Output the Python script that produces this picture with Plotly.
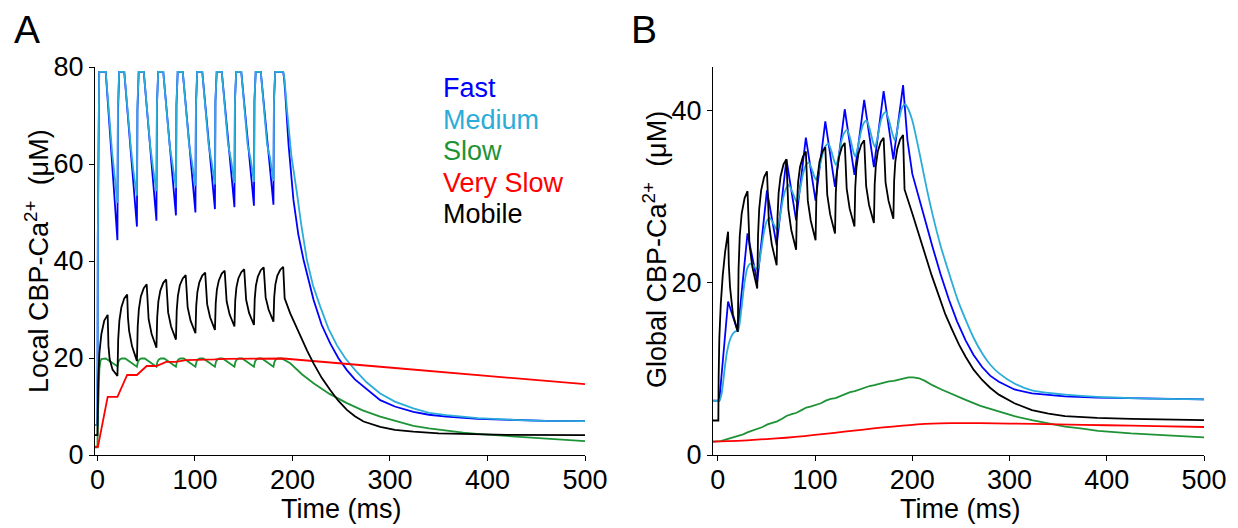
import plotly.graph_objects as go

W, H = 1238, 528

# ---------------- Panel A (local) ----------------
A_FAST_T = [-2.5, 0, 0.4, 1.0, 1.8, 8.5,
            20.5, 21.0, 21.6, 22.3, 27.5,
            40.5, 41.0, 41.6, 42.3, 47.5,
            60.5, 61.0, 61.6, 62.3, 67.5,
            80.5, 81.0, 81.6, 82.3, 87.5,
            100.5, 101.0, 101.6, 102.3, 107.5,
            120.5, 121.0, 121.6, 122.3, 127.5,
            140.5, 141.0, 141.6, 142.3, 147.5,
            160.5, 161.0, 161.6, 162.3, 167.5,
            180.5, 181.0, 181.6, 182.3, 190.5,
            191.5, 192.6, 196, 201, 206, 211.4, 221.6, 230, 238.7, 247, 255.8, 264,
            272.9, 290, 305, 324, 340, 358, 390, 426.5, 460, 500]
A_FAST_V = [6.2, 6.2, 45, 76, 79, 79,
            44.3, 70, 78, 79, 79,
            47.1, 71, 78, 79, 79,
            48.3, 72, 78, 79, 79,
            49.4, 72, 78, 79, 79,
            50.0, 72, 78, 79, 79,
            50.7, 73, 78, 79, 79,
            51.1, 73, 78, 79, 79,
            51.4, 73, 78, 79, 79,
            51.6, 73, 78, 79, 79,
            77.5, 74.6, 64, 52.6, 45.5, 40.2, 32, 26.8, 23, 20, 17.5, 15.6,
            14.1, 11.3, 10.0, 8.9, 8.3, 7.9, 7.45, 7.2, 7.05, 7.0]

A_MED_T = [-2.5, 0, 0.4, 1.0, 1.8, 8.5, 12, 15, 18,
           20.5, 21.0, 21.6, 22.3, 27.5, 31, 34, 37,
           40.5, 41.0, 41.6, 42.3, 47.5, 51, 54, 57,
           60.5, 61.0, 61.6, 62.3, 67.5, 71, 74, 77,
           80.5, 81.0, 81.6, 82.3, 87.5, 91, 94, 97,
           100.5, 101.0, 101.6, 102.3, 107.5, 111, 114, 117,
           120.5, 121.0, 121.6, 122.3, 127.5, 131, 134, 137,
           140.5, 141.0, 141.6, 142.3, 147.5, 151, 154, 157,
           160.5, 161.0, 161.6, 162.3, 167.5, 171, 174, 177,
           180.5, 181.0, 181.6, 182.3, 190.5,
           191.8, 194.4, 199, 204.6, 209, 214.8, 221, 228.5, 237, 245.6, 254, 264.3,
           276, 290, 305, 324, 340, 358, 390, 426, 460, 500]
A_MED_V = [6.2, 6.2, 45, 76, 79, 79, 69.5, 62.5, 56.8,
           52.0, 72, 78, 79, 79, 70.5, 64.0, 58.3,
           53.5, 72, 78, 79, 79, 70.5, 64.0, 59.2,
           54.4, 72, 78, 79, 79, 70.5, 64.0, 59.9,
           55.1, 72, 78, 79, 79, 70.5, 64.0, 60.3,
           55.5, 72, 78, 79, 79, 70.5, 64.0, 60.6,
           55.8, 73, 78, 79, 79, 70.5, 64.0, 60.9,
           56.1, 73, 78, 79, 79, 70.5, 64.0, 61.1,
           56.3, 73, 78, 79, 79, 70.5, 64.0, 61.3,
           56.5, 73, 78, 79, 79,
           77.5, 71.1, 61.5, 54, 47.5, 40.2, 35, 30.6, 26.0, 22.6, 20.0, 17.5,
           15.0, 12.7, 11.0, 9.6, 8.7, 8.2, 7.6, 7.25, 7.05, 7.0]

A_SLOW_T = [-2.5, 0, 0.5, 1.2, 2, 3, 4, 8.5,
            20.5, 21.5, 23, 25, 28.5,
            40.5, 41.5, 43, 45, 48.5,
            60.5, 61.5, 63, 65, 68.5,
            80.5, 81.5, 83, 85, 88.5,
            100.5, 101.5, 103, 105, 108.5,
            120.5, 121.5, 123, 125, 128.5,
            140.5, 141.5, 143, 145, 148.5,
            160.5, 161.5, 163, 165, 168.5,
            180.5, 181.5, 183, 185, 189,
            197.7, 210, 221.6, 238, 255.8, 272, 290, 307, 324, 340, 358, 375, 392,
            426, 460, 500]
A_SLOW_V = [1.6, 1.6, 8, 14, 17.8, 19.3, 19.8, 19.9,
            18.3, 19.2, 19.7, 19.9, 19.9,
            18.2, 19.2, 19.7, 19.9, 19.9,
            18.2, 19.2, 19.7, 19.9, 19.9,
            18.2, 19.2, 19.7, 19.9, 19.9,
            18.2, 19.2, 19.7, 19.9, 19.9,
            18.2, 19.2, 19.7, 19.9, 19.9,
            18.2, 19.2, 19.7, 19.9, 19.9,
            18.2, 19.2, 19.7, 19.9, 19.9,
            18.2, 19.2, 19.7, 19.9, 19.9,
            18.9, 16.6, 14.8, 12.6, 10.7, 9.2, 7.9, 6.9, 6.0, 5.5, 5.0, 4.6, 4.3,
            3.8, 3.3, 2.85]

A_VSLOW_T = [-2.5, 0.5, 10.5, 20.5, 30.5, 40.5, 50.5, 60.5, 70.5, 80.5, 90.5, 100.5,
             110.5, 120.5, 130.5, 140.5, 150.5, 160.5, 170.5, 190.5, 290, 392, 500]
A_VSLOW_V = [1.7, 1.7, 12.0, 12.0, 16.5, 16.5, 18.35, 18.35, 19.2, 19.2, 19.55, 19.55,
             19.7, 19.7, 19.8, 19.8, 19.85, 19.85, 19.9, 19.9, 18.2, 16.5, 14.6]

A_MOB_T = [-2.5, 0, 0.8, 2, 4, 7, 10.5, 11.3, 12.5, 15.5, 20.5,
           21.3, 22.5, 24.5, 27.5, 30.5, 31.3, 32.5, 35.5, 40.5,
           41.3, 42.5, 44.5, 47.5, 50.5, 51.3, 52.5, 55.5, 60.5,
           61.3, 62.5, 64.5, 67.5, 70.5, 71.3, 72.5, 75.5, 80.5,
           81.3, 82.5, 84.5, 87.5, 90.5, 91.3, 92.5, 95.5, 100.5,
           101.3, 102.5, 104.5, 107.5, 110.5, 111.3, 112.5, 115.5, 120.5,
           121.3, 122.5, 124.5, 127.5, 130.5, 131.3, 132.5, 135.5, 140.5,
           141.3, 142.5, 144.5, 147.5, 150.5, 151.3, 152.5, 155.5, 160.5,
           161.3, 162.5, 164.5, 167.5, 170.5, 171.3, 172.5, 175.5, 180.5,
           181.3, 182.5, 184.5, 187.5, 190.5,
           191.3, 192, 197.7, 208, 215, 221.6, 230, 238.7, 247, 255.8, 264, 272.9,
           290, 305, 324, 350, 375, 420, 500]
A_MOB_V = [4.1, 4.1, 15.3, 21.0, 24.9, 27.7, 28.9, 22.5, 19.8, 17.6, 16.3,
           23.9, 27.7, 30.4, 32.3, 33.1, 28.3, 25.6, 22.4, 19.4,
           26.5, 30.1, 32.7, 34.4, 35.2, 30.6, 28.0, 25.0, 22.1,
           28.4, 31.7, 33.9, 35.5, 36.2, 31.9, 29.4, 26.5, 23.8,
           29.8, 32.8, 35.0, 36.4, 37.1, 32.9, 30.5, 27.7, 25.1,
           30.7, 33.6, 35.6, 37.0, 37.6, 33.5, 31.1, 28.4, 25.8,
           31.3, 34.1, 36.0, 37.4, 38.0, 34.0, 31.7, 29.0, 26.5,
           31.8, 34.5, 36.4, 37.7, 38.3, 34.3, 32.0, 29.3, 26.8,
           32.2, 34.9, 36.8, 38.1, 38.7, 34.8, 32.5, 30.0, 27.5,
           32.6, 35.2, 37.0, 38.2, 38.8,
           34.5, 32.3, 29.2, 24.4, 21.5, 18.9, 15.9, 13.4, 11.2, 9.3, 8.0, 6.9,
           5.8, 5.2, 4.8, 4.45, 4.3, 4.15, 4.1]

# ---------------- Panel B (global) ----------------
B_FAST_T = [-5, 1.5, 10.5, 20.5, 30.5, 40.5, 50.5, 60.5, 70.5, 80.5, 90.5, 100.5,
            110.5, 120.5, 130.5, 140.5, 150.5, 160.5, 170.5, 180.5, 190.5,
            192, 195, 200, 207, 213.8, 220.6, 229, 237.7, 246, 254.8, 263, 271.8,
            280, 289, 305, 323, 340, 357, 390, 425, 460, 500]
B_FAST_V = [6.3, 6.3, 17.8, 14.3, 25.7, 20.1, 30.7, 24.3, 34.3, 27.2, 36.8, 29.5,
            38.7, 31.1, 40.1, 32.5, 41.2, 33.4, 42.2, 34.3, 42.9,
            40.5, 36.5, 32.6, 29.9, 27.0, 24.2, 21.0, 18.0, 15.5, 13.3, 11.6, 10.2,
            9.2, 8.5, 7.6, 7.15, 6.95, 6.8, 6.65, 6.6, 6.5, 6.45]

B_MED_T = [-5, 1.5, 3.5, 5.5, 7.2, 9.5, 12.3, 15, 17.5, 21,
           24.1, 27.3, 30.4, 33.5, 36.5, 38.6, 41,
           44.1, 47.2, 50.2, 53.3, 56.4, 59.1, 61,
           64, 67, 70, 73, 76.3, 79.5, 81.3,
           84.4, 87.4, 90.5, 93.5, 96.5, 99.2, 101.1,
           104.3, 107.4, 110.6, 113.7, 116.9, 119.6, 121.6,
           124.5, 127.3, 130.2, 133, 136.4, 139.3, 141.4,
           144.3, 147.2, 150.1, 153, 156.4, 159.5, 161.6,
           164.4, 167.2, 170, 172.8, 176.5, 179.7, 182,
           184.7, 187.3, 190, 192.6,
           195, 200, 205, 210.3, 215, 220.6, 229, 237.7, 246, 254.8, 263, 271.8,
           280, 289, 305, 323, 340, 357, 390, 425, 460, 500]
B_MED_V = [6.3, 6.3, 6.9, 8.5, 10.2, 12.0, 13.3, 14.0, 14.3, 14.5,
           16.8, 19.9, 21.7, 22.2, 22.0, 21.7, 21.6,
           23.4, 25.7, 27.1, 27.5, 27.0, 26.4, 26.1,
           27.7, 29.7, 30.9, 31.3, 30.6, 29.7, 29.3,
           30.7, 32.5, 33.6, 33.9, 33.2, 32.3, 31.9,
           33.2, 34.8, 35.8, 36.1, 35.2, 34.1, 33.6,
           34.8, 36.5, 37.4, 37.7, 36.6, 35.2, 34.6,
           35.9, 37.5, 38.5, 38.8, 37.7, 36.3, 35.7,
           36.9, 38.6, 39.5, 39.8, 38.6, 37.2, 36.5,
           37.8, 39.4, 40.4, 40.7,
           40.3, 38.8, 36.3, 33.4, 30.8, 28.0, 24.3, 21.1, 18.2, 15.7, 13.6, 11.8,
           10.5, 9.5, 8.3, 7.5, 7.2, 7.0, 6.75, 6.6, 6.5, 6.45]

B_SLOW_T = [-5, 3, 7, 12, 17, 21, 26, 31, 36, 41, 46, 51, 56, 61, 66, 71, 76, 81, 86,
            91, 96, 101, 106, 111, 116, 121, 126, 131, 136, 141, 146, 151, 156, 161,
            166, 171, 176, 181, 186, 191, 196, 201, 207, 213, 220.6, 230, 240, 254.8,
            270, 289, 305, 323, 340, 357, 375, 391, 425, 460, 500]
B_SLOW_V = [1.55, 1.6, 1.75, 1.9, 2.05, 2.2, 2.4, 2.65, 2.85, 3.0, 3.25, 3.55, 3.75,
            3.9, 4.2, 4.55, 4.75, 4.9, 5.2, 5.5, 5.65, 5.8, 6.0, 6.3, 6.5, 6.6, 6.85,
            7.1, 7.3, 7.4, 7.6, 7.85, 8.0, 8.1, 8.25, 8.45, 8.55, 8.6, 8.75, 8.9, 9.0,
            9.0, 8.9, 8.6, 8.1, 7.6, 7.1, 6.4, 5.7, 5.0, 4.5, 4.05, 3.65, 3.3, 3.05,
            2.8, 2.5, 2.25, 2.05]

B_VSLOW_T = [-5, 10, 30, 50, 70, 89, 110, 130, 150, 170, 190, 205, 220, 240, 270, 300,
             350, 400, 450, 500]
B_VSLOW_V = [1.55, 1.6, 1.7, 1.85, 2.0, 2.2, 2.45, 2.7, 2.95, 3.2, 3.4, 3.55, 3.65,
             3.7, 3.7, 3.65, 3.55, 3.45, 3.35, 3.25]

B_MOB_T = [-5, 0.5, 0.8, 1.5, 3, 5, 7.5, 10.5, 11.3, 12.5, 15.5, 20.5,
           21.3, 22.5, 24.5, 27.5, 30.5, 31.3, 32.5, 35.5, 40.5,
           41.3, 42.5, 44.5, 47.5, 50.5, 51.3, 52.5, 55.5, 60.5,
           61.3, 62.5, 64.5, 67.5, 70.5, 71.3, 72.5, 75.5, 80.5,
           81.3, 82.5, 84.5, 87.5, 90.5, 91.3, 92.5, 95.5, 100.5,
           101.3, 102.5, 104.5, 107.5, 110.5, 111.3, 112.5, 115.5, 120.5,
           121.3, 122.5, 124.5, 127.5, 130.5, 131.3, 132.5, 135.5, 140.5,
           141.3, 142.5, 144.5, 147.5, 150.5, 151.3, 152.5, 155.5, 160.5,
           161.3, 162.5, 164.5, 167.5, 170.5, 171.3, 172.5, 175.5, 180.5,
           181.3, 182.5, 184.5, 187.5, 190.5,
           191.0, 192, 200, 207, 213.8, 220, 227.5, 234, 241, 248, 254.8, 263, 271.8,
           280, 289, 305, 323, 340, 357, 390, 425, 460, 500]
B_MOB_V = [4.0, 4.0, 9.0, 13.5, 17.5, 20.8, 23.6, 25.9, 22.0, 19.5, 16.3, 14.3,
           21.6, 25.4, 28.0, 29.8, 30.6, 26.6, 24.4, 21.8, 19.3,
           25.4, 28.5, 30.7, 32.2, 32.9, 29.1, 26.9, 24.4, 22.0,
           27.5, 30.4, 32.3, 33.7, 34.3, 30.6, 28.5, 26.1, 23.8,
           28.9, 31.6, 33.4, 34.6, 35.2, 31.6, 29.5, 27.2, 24.9,
           29.8, 32.2, 34.0, 35.2, 35.7, 32.2, 30.2, 27.9, 25.7,
           30.4, 32.8, 34.5, 35.7, 36.2, 32.8, 30.9, 28.6, 26.5,
           31.0, 33.3, 34.9, 36.0, 36.5, 33.1, 31.2, 29.0, 26.9,
           31.4, 33.6, 35.2, 36.3, 36.8, 33.5, 31.6, 29.5, 27.4,
           31.8, 34.0, 35.5, 36.6, 37.1,
           34.0, 30.8, 28.0, 25.5, 23.0, 20.8, 18.4, 16.3, 14.5, 12.8, 11.4, 9.9, 8.7,
           7.8, 7.0, 6.0, 5.2, 4.8, 4.5, 4.3, 4.2, 4.1, 4.05]

NAMES = ["Fast", "Medium", "Slow", "Very Slow", "Mobile"]
COLORS = ["#0000FF", "#2BACD9", "#1E9336", "#FF0000", "#000000"]
X_TICKS = [0, 100, 200, 300, 400, 500]
A_Y_TICKS = [0, 20, 40, 60, 80]
B_Y_TICKS = [0, 20, 40]

FONT = "Liberation Sans, Arial, sans-serif"
FS = 27
LW = 1.8

fig = go.Figure()

panelA = [(A_FAST_T, A_FAST_V), (A_MED_T, A_MED_V), (A_SLOW_T, A_SLOW_V),
          (A_VSLOW_T, A_VSLOW_V), (A_MOB_T, A_MOB_V)]
panelB = [(B_FAST_T, B_FAST_V), (B_MED_T, B_MED_V), (B_SLOW_T, B_SLOW_V),
          (B_VSLOW_T, B_VSLOW_V), (B_MOB_T, B_MOB_V)]
smoothB = [False, True, False, True, False]

for (t, v), name, col in zip(panelA, NAMES, COLORS):
    fig.add_trace(go.Scatter(x=t, y=v, mode="lines", name=name, showlegend=False,
                             line=dict(color=col, width=LW), xaxis="x", yaxis="y"))
for (t, v), name, col, sm in zip(panelB, NAMES, COLORS, smoothB):
    line = dict(color=col, width=LW)
    if sm:
        line.update(shape="spline", smoothing=0.6)
    fig.add_trace(go.Scatter(x=t, y=v, mode="lines", name=name, showlegend=False,
                             line=line, xaxis="x2", yaxis="y2"))

def px_x(p):
    return p / W

def px_y(p):
    return 1 - p / H

y_dom = [px_y(455), px_y(67)]
axis_common = dict(showgrid=False, zeroline=False, showline=True, linecolor="black",
                   linewidth=1, ticks="outside", ticklen=5, tickwidth=1, tickcolor="black",
                   tickfont=dict(family=FONT, size=FS, color="black"), mirror=False,
                   automargin=False)

fig.update_layout(
    width=W, height=H,
    margin=dict(l=0, r=0, t=0, b=0, pad=0, autoexpand=False),
    paper_bgcolor="white", plot_bgcolor="white", showlegend=False,
    xaxis=dict(domain=[px_x(95), px_x(585)], range=[-2.5, 500], tickvals=X_TICKS,
               anchor="y", ticklabelstandoff=-4, **axis_common),
    yaxis=dict(domain=y_dom, range=[0, 80], tickvals=A_Y_TICKS, anchor="x", **axis_common),
    xaxis2=dict(domain=[px_x(713), px_x(1204)], range=[-5, 500], tickvals=X_TICKS,
                anchor="y2", ticklabelstandoff=-4, **axis_common),
    yaxis2=dict(domain=y_dom, range=[0, 45], tickvals=B_Y_TICKS, anchor="x2", **axis_common),
)

ann = []
def add_text(txt, x, y, size=FS, color="black", xanchor="center", angle=0):
    ann.append(dict(text=txt, x=px_x(x), y=px_y(y), xref="paper", yref="paper",
                    xanchor=xanchor, yanchor="middle", showarrow=False, textangle=angle,
                    font=dict(family=FONT, size=size, color=color)))

GAP = "\u00a0\u00a0"
add_text("A", 27, 30, size=39)
add_text("B", 644, 30, size=39)
add_text("Time (ms)", 341, 509)
add_text("Time (ms)", 960, 509)
add_text("Local CBP-Ca<sup>2+</sup>" + GAP + "(μM)", 37, 261, angle=-90)
add_text("Global CBP-Ca<sup>2+</sup>" + GAP + "(μM)", 655, 250, angle=-90)

legend_y = [88, 120, 151, 183, 214]
for name, col, yy in zip(NAMES, COLORS, legend_y):
    add_text(name, 441, yy, color=col, xanchor="left")

fig.update_layout(annotations=ann)
fig.write_html("out.html")
